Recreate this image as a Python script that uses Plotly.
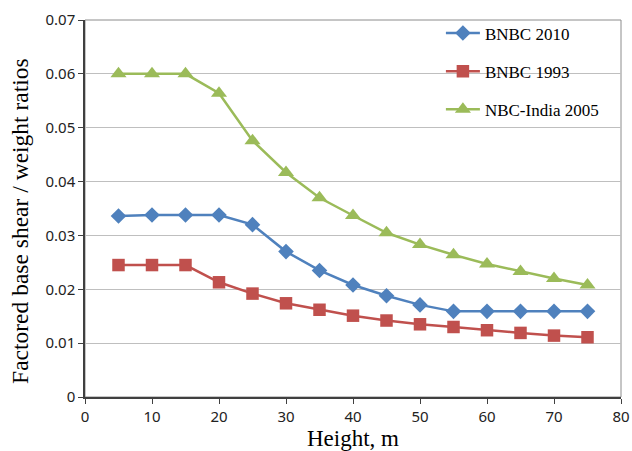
import plotly.graph_objects as go

heights = [5, 10, 15, 20, 25, 30, 35, 40, 45, 50, 55, 60, 65, 70, 75]
bnbc2010 = [0.0336, 0.0338, 0.0338, 0.0338, 0.0320, 0.0270, 0.0235, 0.0208, 0.0188, 0.0171,
            0.0159, 0.0159, 0.0159, 0.0159, 0.0159]
bnbc1993 = [0.0245, 0.0245, 0.0245, 0.0213, 0.0192, 0.0174, 0.0162, 0.0151, 0.0142, 0.0135,
            0.0130, 0.0124, 0.0119, 0.0114, 0.0111]
nbc_india = [0.0600, 0.0600, 0.0600, 0.0564, 0.0476, 0.0417, 0.0370, 0.0337, 0.0305, 0.0283,
             0.0264, 0.0247, 0.0233, 0.0220, 0.0208]

series = [
    ("BNBC 2010", bnbc2010, "#4F81BD", "diamond", 12),
    ("BNBC 1993", bnbc1993, "#C0504D", "square", 12.5),
    ("NBC-India 2005", nbc_india, "#9BBB59", "triangle-up", 14),
]

fig = go.Figure()
for i, (name, vals, color, sym, sz) in enumerate(series):
    fig.add_trace(go.Scatter(
        x=heights, y=vals, name=name, mode="lines+markers",
        line=dict(color=color, width=2.5),
        marker=dict(symbol=sym, size=sz, color=color),
        legendgroup=f"g{i}",
    ))

tick_font = dict(family="Noto Sans", size=15, color="#222222")
fig.update_layout(
    width=632, height=451,
    margin=dict(l=85, r=11, t=20, b=54),
    paper_bgcolor="white", plot_bgcolor="white",
    showlegend=True,
    legend=dict(
        x=0.664, y=1.012, xanchor="left", yanchor="top",
        font=dict(family="Liberation Serif", size=17, color="#000000"),
        bgcolor="rgba(0,0,0,0)", tracegroupgap=13, itemwidth=34,
    ),
    xaxis=dict(
        range=[0, 80], dtick=10, tick0=0, automargin=False,
        showgrid=False, zeroline=False,
        showline=True, linecolor="#404040", linewidth=1.5,
        ticks="outside", ticklen=5, tickcolor="#404040",
        tickfont=tick_font,
        title=dict(text="Height, m", font=dict(family="Liberation Serif", size=23, color="#000"), standoff=6),
    ),
    yaxis=dict(
        range=[0, 0.07], dtick=0.01, tick0=0, automargin=False,
        showgrid=True, gridcolor="#BFBFBF", gridwidth=1,
        zeroline=False,
        showline=True, linecolor="#404040", linewidth=1.5,
        ticks="outside", ticklen=5, tickcolor="#404040",
        tickfont=tick_font,
    ),
    annotations=[dict(
        text="Factored base shear / weight ratios", textangle=-90,
        xref="paper", yref="paper", x=-0.1213, y=0.467,
        xanchor="center", yanchor="middle", showarrow=False,
        font=dict(family="Liberation Serif", size=23.5, color="#000"),
    )],
    shapes=[dict(type="rect", xref="paper", yref="paper", x0=0, y0=0, x1=1, y1=1,
                 line=dict(color="#8C8C8C", width=1), layer="below")],
)

fig.write_html("out.html", post_script="document.body.style.margin='0px';",
               config={"displayModeBar": False})
